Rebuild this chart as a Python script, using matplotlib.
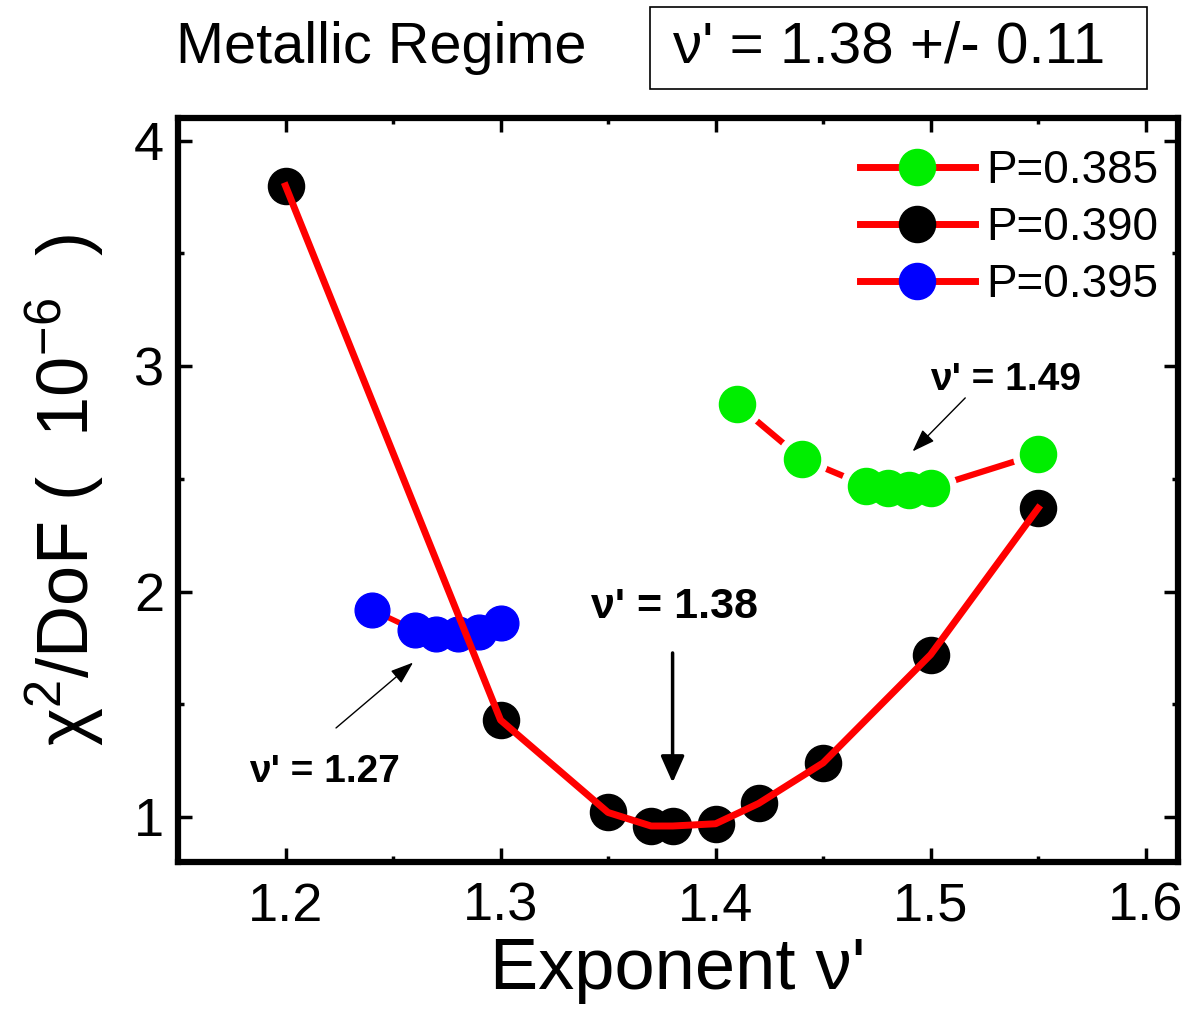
import matplotlib
matplotlib.use('Agg')
import matplotlib.pyplot as plt
from matplotlib.lines import Line2D
from matplotlib.patches import Rectangle
from matplotlib.ticker import MultipleLocator

plt.rcParams['font.family'] = ['Liberation Sans', 'DejaVu Sans']
plt.rcParams['mathtext.fontset'] = 'custom'
plt.rcParams['mathtext.rm'] = 'Liberation Sans'
plt.rcParams['mathtext.it'] = 'Liberation Sans'
plt.rcParams['mathtext.bf'] = 'Liberation Sans:bold'

# %% data
nu_385 = [1.41, 1.44, 1.47, 1.48, 1.49, 1.50, 1.55]
chi_385 = [2.83, 2.59, 2.47, 2.46, 2.45, 2.46, 2.61]

nu_390 = [1.20, 1.30, 1.35, 1.37, 1.38, 1.40, 1.42, 1.45, 1.50, 1.55]
chi_390 = [3.80, 1.43, 1.02, 0.96, 0.96, 0.97, 1.06, 1.24, 1.72, 2.37]

nu_395 = [1.24, 1.26, 1.27, 1.28, 1.29, 1.30]
chi_395 = [1.92, 1.83, 1.81, 1.81, 1.82, 1.86]

labels = ['P=0.385', 'P=0.390', 'P=0.395']
x_ticks = [1.2, 1.3, 1.4, 1.5, 1.6]
y_ticks = [1, 2, 3, 4]

# %%
fig = plt.figure(figsize=(11.89, 10.19), dpi=100)
ax = fig.add_axes([0.1497, 0.154, 0.841, 0.730])

ms = 26
# P=0.385: line with gaps around symbols
ax.plot(nu_385, chi_385, color='red', lw=4.5, zorder=2)
ax.plot(nu_385, chi_385, 'o', color='white', ms=ms + 10, zorder=3)
ax.plot(nu_385, chi_385, 'o', color='#00ee00', ms=ms, zorder=4)

# P=0.390: line drawn over the symbols
ax.plot(nu_390, chi_390, 'o', color='black', ms=ms, zorder=3)
ax.plot(nu_390, chi_390, color='red', lw=5, zorder=5)

# P=0.395
ax.plot(nu_395, chi_395, color='red', lw=4, zorder=2)
ax.plot(nu_395, chi_395, 'o', color='blue', ms=ms - 1, zorder=4)

ax.set_xlim(1.15, 1.615)
ax.set_ylim(0.8, 4.1)
ax.set_xticks(x_ticks)
ax.set_yticks(y_ticks)
ax.xaxis.set_minor_locator(MultipleLocator(0.05))
ax.yaxis.set_minor_locator(MultipleLocator(0.5))
ax.tick_params(which='both', direction='in', top=True, right=True)
ax.tick_params(which='major', length=10, width=2.5, labelsize=39, pad=14)
ax.tick_params(which='minor', length=4, width=2.5)
ax.tick_params(axis='y', pad=10)
for s in ax.spines.values():
    s.set_linewidth(4.5)

ax.set_xlabel("Exponent ν'", fontsize=52, labelpad=4)
ax.set_ylabel("χ$^{2}$/DoF (  10$^{-6}$  )", fontsize=52, labelpad=20)

# legend
handles = [Line2D([], [], color='red', lw=5, marker='o', ms=ms, mfc=c, mec=c)
           for c in ['#00ee00', 'black', 'blue']]
ax.legend(handles, labels, loc='upper right', bbox_to_anchor=(0.985, 0.965),
          frameon=False, fontsize=33, handlelength=2.5, handletextpad=0.25,
          labelspacing=0.29, borderpad=0.1, borderaxespad=0)

# annotations
ax.annotate('', xy=(1.38, 1.14), xytext=(1.38, 1.74),
            arrowprops=dict(arrowstyle='-|>,head_length=0.9,head_width=0.4',
                            lw=2.5, color='black', mutation_scale=18))
ax.text(1.381, 1.93, "ν' = 1.38", fontsize=31, fontweight='bold',
        ha='center', va='center')

ax.annotate('', xy=(1.2603, 1.693), xytext=(1.2225, 1.387),
            arrowprops=dict(arrowstyle='-|>,head_length=0.7,head_width=0.25',
                            lw=1, color='black', mutation_scale=20))
ax.text(1.218, 1.2, "ν' = 1.27", fontsize=28, fontweight='bold',
        ha='center', va='center')

ax.annotate('', xy=(1.4907, 2.613), xytext=(1.517, 2.868),
            arrowprops=dict(arrowstyle='-|>,head_length=0.7,head_width=0.25',
                            lw=1, color='black', mutation_scale=20))
ax.text(1.4995, 2.94, "ν' = 1.49", fontsize=28, fontweight='bold',
        ha='left', va='center')

# header texts
fig.text(0.148, 0.953, 'Metallic Regime', fontsize=41.5, ha='left', va='center')
fig.patches.append(Rectangle((0.5467, 0.9127), 0.418, 0.0805, transform=fig.transFigure,
                             fc='white', ec='black', lw=1.2))
fig.text(0.566, 0.953, "ν' = 1.38 +/- 0.11", fontsize=42, ha='left', va='center')

fig.savefig('out.png', dpi=100)
